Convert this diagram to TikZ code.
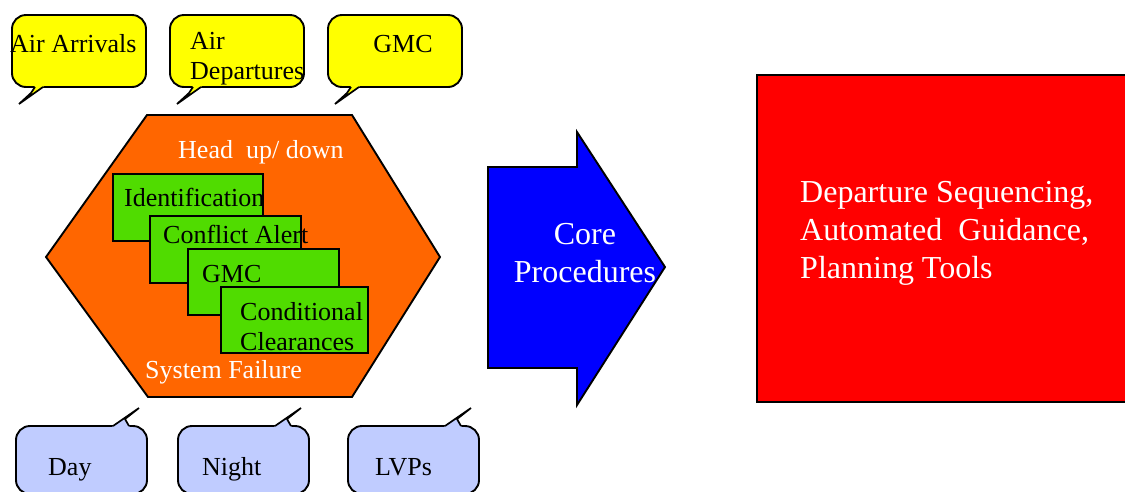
\documentclass[tikz,border=0pt]{standalone}
\usepackage{fontspec}
\setmainfont{Liberation Serif}
\definecolor{bubbleyellow}{RGB}{255,255,0}
\definecolor{bubbleblue}{RGB}{192,204,255}
\definecolor{hexorange}{RGB}{255,102,0}
\definecolor{cardgreen}{RGB}{80,220,0}
\definecolor{arrowblue}{RGB}{0,0,255}
\definecolor{boxred}{RGB}{255,0,0}
\begin{document}
\begin{tikzpicture}[x=1pt,y=-1pt,
  outline/.style={draw=black,line width=1.9pt,line join=miter},
  tail/.style={draw=black,line width=1.7pt,line join=miter,miter limit=6},
  midtext/.style={font=\fontsize{26}{30}\selectfont,inner sep=0pt},
  bigtext/.style={font=\fontsize{32}{38}\selectfont,inner sep=0pt,text=white},
  card/.style={outline,fill=cardgreen}]
\useasboundingbox (0,0) rectangle (1125,491);
\clip (0,0) rectangle (1125,491);

% speech bubbles along the top (tail at lower left)
\foreach \x in {12,170,328}{
  \draw[outline,fill=bubbleyellow,rounded corners=14pt] (\x,15) rectangle ++(134,72);
  \fill[bubbleyellow] (\x+22,85.5) -- (\x+32,85.5) -- (\x+31,87) -- (\x+7,104) -- (\x+19,93) -- (\x+23,87) -- cycle;
  \draw[tail] (\x+23,87) -- (\x+19,93) -- (\x+7,104) -- (\x+31,87);
}
% speech bubbles along the bottom (tail at upper right)
\foreach \x in {16,178,348}{
  \draw[outline,fill=bubbleblue,rounded corners=14pt] (\x,426) rectangle ++(131,68);
  \fill[bubbleblue] (\x+96,427.5) -- (\x+97,426) -- (\x+123,408) -- (\x+109,419) -- (\x+113,426) -- (\x+114,427.5) -- cycle;
  \draw[tail] (\x+97,426) -- (\x+123,408) -- (\x+109,419) -- (\x+113,426);
}

\node[midtext,anchor=base west] (arr) at (10,52) {Air Arrivals};
\node[midtext,anchor=base west,align=left] (dep) at (190,79) {Air\\Departures};
\node[midtext,anchor=base] (gmctop) at (403,52) {GMC};
\node[midtext,anchor=base west] (day) at (48,475) {Day};
\node[midtext,anchor=base west] (night) at (202,475) {Night};
\node[midtext,anchor=base west] (lvp) at (375,475) {LVPs};

% hexagon with stacked cards
\draw[outline,fill=hexorange] (147,115) -- (352,115) -- (440,257) -- (352,397) -- (148,397) -- (46,257) -- cycle;
\node[midtext,anchor=base west,text=white] (head) at (178,158) {Head\ \ up/ down};
\node[midtext,anchor=base west,text=white] (fail) at (145,378) {System Failure};

\draw[card] (113,174) rectangle (263,241);
\node[midtext,anchor=base west] (ident) at (124,206) {Identification};
\draw[card] (150,216) rectangle (301,283);
\node[midtext,anchor=base west] (conf) at (163,243) {Conflict Alert};
\draw[card] (188,249) rectangle (339,315);
\node[midtext,anchor=base west] (gmc) at (202,282) {GMC};
\draw[card] (221,287) rectangle (368,353);
\node[midtext,anchor=base west,align=left] (cond) at (240,350) {Conditional\\Clearances};

% block arrow
\draw[outline,fill=arrowblue] (488,167) -- (577,167) -- (577,132) -- (665,267) -- (577,405) -- (577,368) -- (488,368) -- cycle;
\node[bigtext,anchor=base,align=center] (core) at (585,282) {Core\\Procedures};

% outcome box
\draw[outline,fill=boxred] (757,75) rectangle (1135,402);
\node[bigtext,anchor=base west,align=left] (tools) at (800,278)
  {Departure Sequencing,\\Automated\ \ Guidance,\\Planning Tools};
\end{tikzpicture}
\end{document}
